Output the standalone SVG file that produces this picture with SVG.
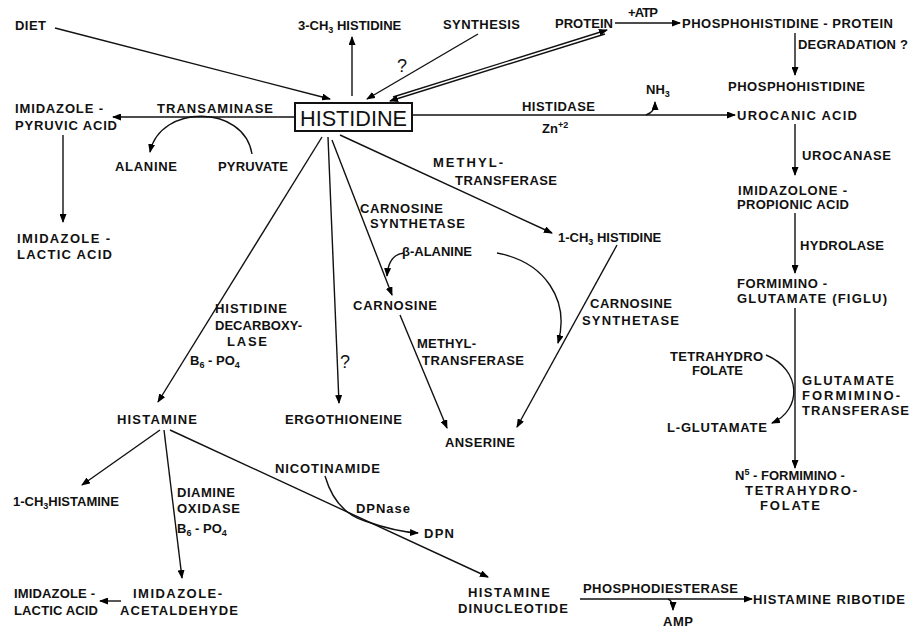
<svg xmlns="http://www.w3.org/2000/svg" width="912" height="630" viewBox="0 0 912 630">
<defs>
<marker id="ah" markerUnits="userSpaceOnUse" markerWidth="9" markerHeight="7" refX="8" refY="3.5" orient="auto">
<path d="M0,0 L9,3.5 L0,7 z" fill="#000"/>
</marker>
<style>
text{font-family:"Liberation Sans",Arial,sans-serif;font-size:13px;font-weight:bold;fill:#111}
.c line,.c path{stroke:#111;stroke-width:1.4;fill:none;marker-end:url(#ah)}
.q{font-size:18px;font-weight:normal}
.sb{font-size:9px}
</style>
</defs>
<rect width="912" height="630" fill="#fff"/>

<g class="c" id="connectors">
<line x1="55" y1="28" x2="330" y2="99"/>
<line x1="352" y1="96" x2="352" y2="37"/>
<line x1="478" y1="34" x2="367" y2="99"/>
<line x1="393" y1="97" x2="607" y2="30"/>
<line x1="605" y1="34" x2="390" y2="101"/>
<line x1="615" y1="23" x2="680" y2="23"/>
<line x1="795" y1="33" x2="795" y2="75"/>
<line x1="412" y1="115" x2="735" y2="115"/>
<path d="M646,115 Q655,112 655,102"/>
<line x1="795" y1="124" x2="795" y2="175"/>
<line x1="795" y1="213" x2="795" y2="273"/>
<line x1="795" y1="308" x2="795" y2="468"/>
<path d="M766,355 C802,370 802,410 772,423"/>
<line x1="295" y1="117" x2="113" y2="117"/>
<path d="M252,154 C244,104 160,104 150,152"/>
<line x1="63" y1="135" x2="63" y2="222"/>
<line x1="322" y1="137" x2="158" y2="402"/>
<line x1="328" y1="137" x2="339" y2="403"/>
<line x1="332" y1="140" x2="392" y2="295"/>
<path d="M404,253 C393,254 388,262 387,276"/>
<line x1="340" y1="135" x2="552" y2="233"/>
<path d="M497,253 C545,262 570,300 558,343"/>
<line x1="400" y1="315" x2="447" y2="428"/>
<line x1="617" y1="245" x2="517" y2="427"/>
<line x1="160" y1="430" x2="82" y2="485"/>
<line x1="164" y1="430" x2="182" y2="578"/>
<line x1="170" y1="430" x2="488" y2="577"/>
<path d="M325,476 C332,500 345,515 365,521 C385,528 400,532 418,533"/>
<line x1="121" y1="601" x2="100" y2="601"/>
<line x1="580" y1="599" x2="752" y2="599"/>
<path d="M668,599 Q673,601 673,610"/>
</g>

<g id="histidine">
<rect x="295" y="103" width="117" height="28" fill="none" stroke="#111" stroke-width="2"/>
<text x="300" y="126" style="font-size:22px;font-weight:normal" textLength="107" lengthAdjust="spacingAndGlyphs">HISTIDINE</text>
</g>
<g id="diet"><text x="15" y="30" textLength="31">DIET</text></g>
<g id="ch3his"><text x="298" y="30">3-CH<tspan class="sb" dy="3">3</tspan><tspan dy="-3"> HISTIDINE</tspan></text></g>
<g id="synthesis"><text x="443" y="29" textLength="77">SYNTHESIS</text><text x="397" y="72" class="q">?</text></g>
<g id="protein"><text x="555" y="28" textLength="58">PROTEIN</text><text x="628" y="17" textLength="30">+ATP</text></g>
<g id="phprot"><text x="682" y="28" textLength="211">PHOSPHOHISTIDINE - PROTEIN</text><text x="798" y="49" textLength="110">DEGRADATION ?</text></g>
<g id="phhis"><text x="728" y="91" textLength="137">PHOSPHOHISTIDINE</text></g>
<g id="histidase"><text x="522" y="111" textLength="73">HISTIDASE</text><text x="542" y="133">Zn<tspan class="sb" dy="-5">+2</tspan></text><text x="646" y="94">NH<tspan class="sb" dy="3">3</tspan></text></g>
<g id="urocanic"><text x="737" y="120" textLength="120">UROCANIC ACID</text><text x="802" y="160" textLength="89">UROCANASE</text></g>
<g id="imidazolone"><text x="738" y="195" textLength="109">IMIDAZOLONE -</text><text x="737" y="209" textLength="112">PROPIONIC ACID</text><text x="800" y="250" textLength="84">HYDROLASE</text></g>
<g id="figlu"><text x="737" y="288" textLength="90">FORMIMINO -</text><text x="737" y="303" textLength="150">GLUTAMATE (FIGLU)</text></g>
<g id="thf"><text x="670" y="361" textLength="93">TETRAHYDRO</text><text x="692" y="375" textLength="51">FOLATE</text><text x="667" y="432" textLength="100">L-GLUTAMATE</text></g>
<g id="gft"><text x="802" y="385" textLength="92">GLUTAMATE</text><text x="802" y="400" textLength="98">FORMIMINO-</text><text x="802" y="415" textLength="107">TRANSFERASE</text></g>
<g id="n5"><text x="735" y="480">N<tspan class="sb" dy="-5">5</tspan><tspan dy="5"> - FORMIMINO -</tspan></text><text x="745" y="495" textLength="112">TETRAHYDRO-</text><text x="760" y="510" textLength="60">FOLATE</text></g>
<g id="pyruvic"><text x="15" y="113" textLength="88">IMIDAZOLE -</text><text x="15" y="130" textLength="102">PYRUVIC ACID</text><text x="157" y="113" textLength="116">TRANSAMINASE</text></g>
<g id="alanine"><text x="115" y="171" textLength="62">ALANINE</text><text x="218" y="171" textLength="70">PYRUVATE</text></g>
<g id="lactic1"><text x="17" y="243" textLength="93">IMIDAZOLE -</text><text x="17" y="259" textLength="95">LACTIC ACID</text></g>
<g id="hdc"><text x="215" y="313" textLength="72">HISTIDINE</text><text x="215" y="330" textLength="87">DECARBOXY-</text><text x="227" y="346" textLength="40">LASE</text><text x="190" y="365">B<tspan class="sb" dy="3">6</tspan><tspan dy="-3"> - PO</tspan><tspan class="sb" dy="3">4</tspan></text></g>
<g id="histamine"><text x="117" y="424" textLength="80">HISTAMINE</text></g>
<g id="ergo"><text x="340" y="368" class="q">?</text><text x="285" y="424" textLength="117">ERGOTHIONEINE</text></g>
<g id="cs1"><text x="360" y="213" textLength="83">CARNOSINE</text><text x="370" y="228" textLength="95">SYNTHETASE</text></g>
<g id="mt1"><text x="433" y="167" textLength="70">METHYL-</text><text x="455" y="185" textLength="102">TRANSFERASE</text></g>
<g id="ch3his1"><text x="558" y="242">1-CH<tspan class="sb" dy="3">3</tspan><tspan dy="-3"> HISTIDINE</tspan></text></g>
<g id="balanine"><text x="402" y="256">β-ALANINE</text></g>
<g id="carnosine"><text x="353" y="310" textLength="84">CARNOSINE</text></g>
<g id="mt2"><text x="417" y="348" textLength="59">METHYL-</text><text x="422" y="365" textLength="102">TRANSFERASE</text></g>
<g id="anserine"><text x="445" y="447" textLength="70">ANSERINE</text></g>
<g id="cs2"><text x="590" y="308" textLength="82">CARNOSINE</text><text x="582" y="325" textLength="97">SYNTHETASE</text></g>
<g id="ch3hism"><text x="13" y="506">1-CH<tspan class="sb" dy="3">3</tspan><tspan dy="-3">HISTAMINE</tspan></text></g>
<g id="dao"><text x="177" y="497" textLength="58">DIAMINE</text><text x="177" y="513" textLength="63">OXIDASE</text><text x="177" y="533">B<tspan class="sb" dy="3">6</tspan><tspan dy="-3"> - PO</tspan><tspan class="sb" dy="3">4</tspan></text></g>
<g id="lactic2"><text x="14" y="598" textLength="81">IMIDAZOLE -</text><text x="14" y="615" textLength="84">LACTIC ACID</text></g>
<g id="acetald"><text x="133" y="598" textLength="89">IMIDAZOLE-</text><text x="120" y="615" textLength="118">ACETALDEHYDE</text></g>
<g id="nicotinamide"><text x="275" y="473" textLength="105">NICOTINAMIDE</text><text x="356" y="513" textLength="54">DPNase</text></g>
<g id="dpn"><text x="424" y="538" textLength="30">DPN</text></g>
<g id="hdn"><text x="468" y="597" textLength="82">HISTAMINE</text><text x="458" y="613" textLength="110">DINUCLEOTIDE</text></g>
<g id="pde"><text x="583" y="593" textLength="155">PHOSPHODIESTERASE</text><text x="663" y="626" textLength="30">AMP</text></g>
<g id="ribotide"><text x="753" y="604" textLength="152">HISTAMINE RIBOTIDE</text></g>
</svg>
